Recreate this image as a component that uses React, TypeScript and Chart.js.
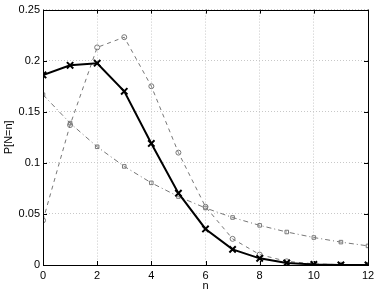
import React, { useEffect, useRef } from "react";
import { Chart, registerables } from "chart.js";

Chart.register(...registerables);

const nValues = [0, 1, 2, 3, 4, 5, 6, 7, 8, 9, 10, 11, 12];
const seriesCross = [0.186, 0.1955, 0.1975, 0.17, 0.119, 0.0703, 0.0353, 0.0153, 0.0065, 0.002, 0.0005, 0.0001, 0.00003];
const seriesCircle = [0.0437, 0.137, 0.213, 0.223, 0.175, 0.11, 0.057, 0.0256, 0.0102, 0.0036, 0.0011, 0.0003, 0.0001];
const seriesSquare = [0.1667, 0.1389, 0.1157, 0.0965, 0.0804, 0.067, 0.0558, 0.0465, 0.0388, 0.0323, 0.0269, 0.0224, 0.0187];
const xTicks = [0, 2, 4, 6, 8, 10, 12];
const yTicks = [0, 0.05, 0.1, 0.15, 0.2, 0.25];

const FONT = "'Liberation Sans', Arial, sans-serif";

const boxPlugin = {
  id: "box",
  afterDatasetsDraw(chart: any) {
    const { ctx, chartArea: a, scales } = chart;
    ctx.save();
    ctx.strokeStyle = "#000";
    ctx.lineWidth = 1;
    ctx.beginPath();
    const tl = 4;
    xTicks.forEach((v) => {
      const x = Math.round(scales.x.getPixelForValue(v)) + 0.5;
      ctx.moveTo(x, a.bottom);
      ctx.lineTo(x, a.bottom - tl);
      ctx.moveTo(x, a.top);
      ctx.lineTo(x, a.top + tl);
    });
    yTicks.forEach((v) => {
      const y = Math.round(scales.y.getPixelForValue(v)) + 0.5;
      ctx.moveTo(a.left, y);
      ctx.lineTo(a.left + tl, y);
      ctx.moveTo(a.right, y);
      ctx.lineTo(a.right - tl, y);
    });
    ctx.stroke();
    ctx.strokeRect(Math.round(a.left) + 0.5, Math.round(a.top) + 0.5, Math.round(a.right - a.left), Math.round(a.bottom - a.top));
    ctx.restore();
  },
};

export default function App() {
  const ref = useRef<HTMLCanvasElement>(null);
  useEffect(() => {
    document.body.style.margin = "0";
    const toPts = (arr: number[]) => arr.map((y, i) => ({ x: nValues[i], y }));
    const chart = new Chart(ref.current!, {
      type: "line",
      data: {
        datasets: [
          {
            data: toPts(seriesCross),
            borderColor: "#000",
            borderWidth: 2,
            pointStyle: "crossRot",
            pointRadius: 4.5,
            pointBorderWidth: 2,
            pointBorderColor: "#000",
            order: 0,
          },
          {
            data: toPts(seriesCircle),
            borderColor: "#777",
            borderWidth: 1,
            borderDash: [4, 4],
            pointStyle: "circle",
            pointRadius: 2.5,
            pointBorderWidth: 1,
            pointBorderColor: "#777",
            pointBackgroundColor: "rgba(255,255,255,0)",
            order: 1,
          },
          {
            data: toPts(seriesSquare),
            borderColor: "#777",
            borderWidth: 1,
            borderDash: [5, 3, 1, 3],
            pointStyle: "rect",
            pointRadius: 2.5,
            pointBorderWidth: 1,
            pointBorderColor: "#777",
            pointBackgroundColor: "rgba(255,255,255,0)",
            order: 2,
          },
        ],
      },
      options: {
        animation: false,
        responsive: false,
        maintainAspectRatio: false,
        layout: { padding: { top: 8, right: 14, left: 0, bottom: 0 } },
        plugins: { legend: { display: false }, tooltip: { enabled: false } },
        scales: {
          x: {
            type: "linear",
            min: 0,
            max: 12,
            afterFit: (s: any) => { s.height = 30; },
            afterBuildTicks: (s: any) => { s.ticks = xTicks.map((v) => ({ value: v })); },
            grid: { color: "#c8c8c8", borderDash: [1, 2], drawTicks: false },
            border: { display: false, dash: [1, 2] },
            ticks: { padding: 4, color: "#000", font: { family: FONT, size: 11 }, maxRotation: 0 },
            title: { display: true, text: "n", color: "#000", font: { family: FONT, size: 11 }, padding: { top: 0, bottom: 2 } },
          },
          y: {
            type: "linear",
            min: 0,
            max: 0.25,
            afterFit: (s: any) => { s.width = 43; },
            afterBuildTicks: (s: any) => { s.ticks = yTicks.map((v) => ({ value: v })); },
            grid: { color: "#c8c8c8", drawTicks: false },
            border: { display: false, dash: [1, 2] },
            ticks: {
              padding: 3,
              color: "#000",
              font: { family: FONT, size: 11 },
              callback: (v: any) => String(Number(Number(v).toFixed(2))),
            },
            title: { display: true, text: "P[N=n]", color: "#000", font: { family: FONT, size: 11 }, padding: { top: 2, bottom: 0 } },
          },
        },
      } as any,
      plugins: [boxPlugin],
    });
    return () => chart.destroy();
  }, []);
  return (
    <div style={{ position: "absolute", left: 0, top: 0, width: 382, height: 295 }}>
      <canvas ref={ref} width={382} height={295} style={{ width: 382, height: 295 }} />
    </div>
  );
}
